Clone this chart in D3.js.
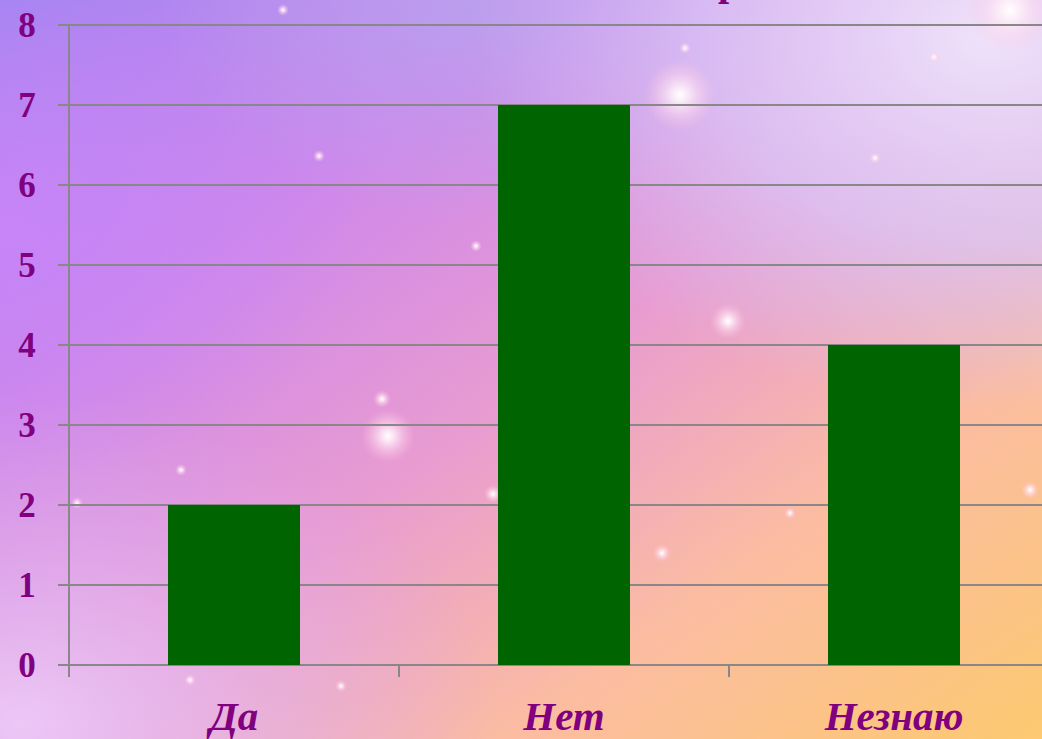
<!DOCTYPE html>
<html>
<head>
<meta charset="utf-8">
<script src="https://cdn.jsdelivr.net/npm/d3@7"></script>
<style>
  html, body { margin: 0; padding: 0; overflow: hidden; }
  svg { display: block; }
</style>
</head>
<body>
<script>
var width = 1042;
var height = 739;

var categories = ['Да', 'Нет', 'Незнаю'];
var values = [2, 7, 4];
var yTicks = [0, 1, 2, 3, 4, 5, 6, 7, 8];

// decorative sparkles in the background picture [x, y, r]
var sparkles = [[680, 95, 12], [388, 436, 9], [728, 321, 6], [283, 10, 2], [319, 156, 2],
  [875, 158, 2], [934, 57, 2], [685, 48, 2], [181, 470, 2], [77, 503, 2], [190, 680, 2],
  [341, 686, 2], [493, 494, 3], [662, 553, 3], [790, 513, 2], [1030, 490, 3], [476, 246, 2],
  [382, 399, 3], [1010, 10, 14]];

var margin = {top: 25, left: 69};
var plotW = 990, plotH = 640;
var font = '"Liberation Serif", "Times New Roman", serif';

var svg = d3.select('body').append('svg')
  .attr('width', width)
  .attr('height', height);

var defs = svg.append('defs');

var base = defs.append('linearGradient').attr('id', 'bg')
  .attr('x1', 0).attr('y1', 0).attr('x2', 1).attr('y2', 1);
base.append('stop').attr('offset', '0%').attr('stop-color', '#a384f2');
base.append('stop').attr('offset', '28%').attr('stop-color', '#cf88ea');
base.append('stop').attr('offset', '52%').attr('stop-color', '#e99cd0');
base.append('stop').attr('offset', '74%').attr('stop-color', '#fbbca2');
base.append('stop').attr('offset', '100%').attr('stop-color', '#fdc970');

var tr = defs.append('radialGradient').attr('id', 'tr')
  .attr('cx', 0.95).attr('cy', 0.05).attr('r', 0.5);
tr.append('stop').attr('offset', '0%').attr('stop-color', '#efe2fa').attr('stop-opacity', 1);
tr.append('stop').attr('offset', '55%').attr('stop-color', '#dac8f8').attr('stop-opacity', 0.75);
tr.append('stop').attr('offset', '100%').attr('stop-color', '#d0c0f8').attr('stop-opacity', 0);

var tc = defs.append('radialGradient').attr('id', 'tc')
  .attr('cx', 0.45).attr('cy', 0.0).attr('r', 0.3);
tc.append('stop').attr('offset', '0%').attr('stop-color', '#b8a4ee').attr('stop-opacity', 0.8);
tc.append('stop').attr('offset', '100%').attr('stop-color', '#b8a4ee').attr('stop-opacity', 0);

var bl = defs.append('radialGradient').attr('id', 'bl')
  .attr('cx', 0.02).attr('cy', 0.98).attr('r', 0.45);
bl.append('stop').attr('offset', '0%').attr('stop-color', '#ecc8f6').attr('stop-opacity', 1);
bl.append('stop').attr('offset', '100%').attr('stop-color', '#d8a8f4').attr('stop-opacity', 0);

var lm = defs.append('radialGradient').attr('id', 'lm')
  .attr('cx', 0.0).attr('cy', 0.3).attr('r', 0.35);
lm.append('stop').attr('offset', '0%').attr('stop-color', '#c884f8').attr('stop-opacity', 0.9);
lm.append('stop').attr('offset', '100%').attr('stop-color', '#c884f8').attr('stop-opacity', 0);

var glow = defs.append('radialGradient').attr('id', 'glow');
glow.append('stop').attr('offset', '0%').attr('stop-color', '#ffffff').attr('stop-opacity', 1);
glow.append('stop').attr('offset', '20%').attr('stop-color', '#fff4fa').attr('stop-opacity', 0.85);
glow.append('stop').attr('offset', '100%').attr('stop-color', '#ffc0e0').attr('stop-opacity', 0);

svg.append('rect').attr('width', width).attr('height', height).attr('fill', 'url(#bg)');
svg.append('rect').attr('width', width).attr('height', height).attr('fill', 'url(#lm)');
svg.append('rect').attr('width', width).attr('height', height).attr('fill', 'url(#tc)');
svg.append('rect').attr('width', width).attr('height', height).attr('fill', 'url(#tr)');
svg.append('rect').attr('width', width).attr('height', height).attr('fill', 'url(#bl)');

svg.append('g').selectAll('circle')
  .data(sparkles)
  .enter().append('circle')
  .attr('cx', function (d) { return d[0]; })
  .attr('cy', function (d) { return d[1]; })
  .attr('r', function (d) { return d[2] * 3; })
  .attr('fill', 'url(#glow)');

// remains of the title, cut off above the picture
svg.append('text')
  .attr('x', 729)
  .attr('y', -5)
  .attr('text-anchor', 'middle')
  .attr('font-family', font)
  .attr('font-weight', 'bold')
  .attr('font-size', 40)
  .attr('fill', '#800080')
  .text('р');

var x = d3.scaleBand()
  .domain(categories)
  .range([0, plotW])
  .paddingInner(0.6)
  .paddingOuter(0.3);

var y = d3.scaleLinear()
  .domain([0, 8])
  .range([plotH, 0]);

var g = svg.append('g')
  .attr('transform', 'translate(' + margin.left + ',' + margin.top + ')');

// gridlines
g.append('g').selectAll('line')
  .data(yTicks)
  .enter().append('line')
  .attr('x1', -11)
  .attr('x2', plotW)
  .attr('y1', function (d) { return y(d); })
  .attr('y2', function (d) { return y(d); })
  .attr('stroke', '#888888')
  .attr('stroke-width', 2);

g.append('line')
  .attr('x1', 0).attr('x2', 0)
  .attr('y1', 0).attr('y2', plotH + 12)
  .attr('stroke', '#888888')
  .attr('stroke-width', 2);

// category ticks on the x axis
g.append('g').selectAll('line')
  .data(d3.range(categories.length + 1))
  .enter().append('line')
  .attr('x1', function (i) { return i * x.step(); })
  .attr('x2', function (i) { return i * x.step(); })
  .attr('y1', plotH)
  .attr('y2', plotH + 12)
  .attr('stroke', '#888888')
  .attr('stroke-width', 2);

g.append('g').selectAll('rect')
  .data(values)
  .enter().append('rect')
  .attr('x', function (d, i) { return x(categories[i]); })
  .attr('width', x.bandwidth())
  .attr('y', function (d) { return y(d); })
  .attr('height', function (d) { return plotH - y(d); })
  .attr('fill', '#006400');

g.append('g').selectAll('text')
  .data(yTicks)
  .enter().append('text')
  .attr('x', -42)
  .attr('y', function (d) { return y(d); })
  .attr('dy', '0.35em')
  .attr('text-anchor', 'middle')
  .attr('font-family', font)
  .attr('font-weight', 'bold')
  .attr('font-size', 35)
  .attr('fill', '#800080')
  .text(function (d) { return d; });

g.append('g').selectAll('text')
  .data(categories)
  .enter().append('text')
  .attr('x', function (d) { return x(d) + x.bandwidth() / 2; })
  .attr('y', plotH + 65)
  .attr('text-anchor', 'middle')
  .attr('font-family', font)
  .attr('font-weight', 'bold')
  .attr('font-style', 'italic')
  .attr('font-size', 41)
  .attr('fill', '#800080')
  .text(function (d) { return d; });
</script>
</body>
</html>
